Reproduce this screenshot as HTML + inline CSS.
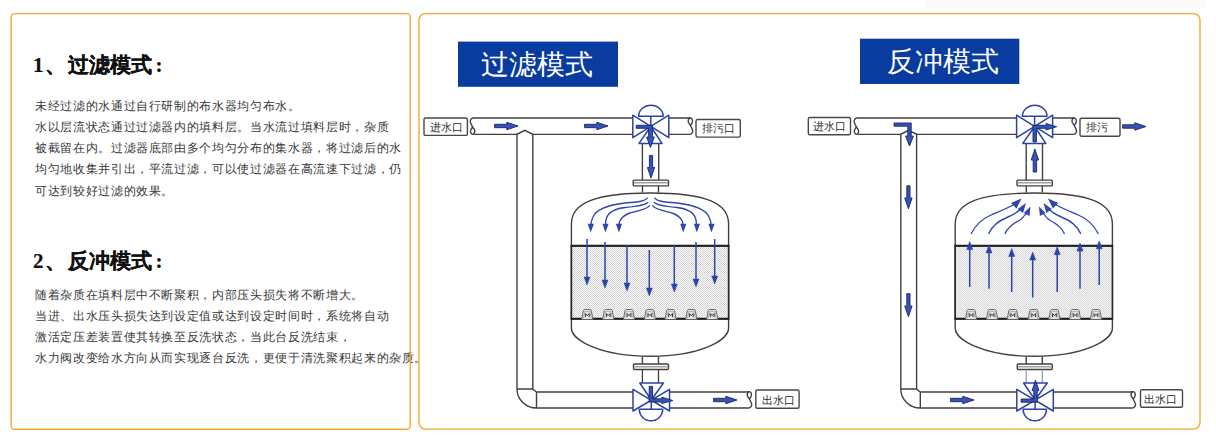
<!DOCTYPE html>
<html><head><meta charset="utf-8">
<style>
html,body{margin:0;padding:0;background:#fff;}
body{width:1216px;height:443px;position:relative;overflow:hidden;font-family:"Liberation Sans",sans-serif;}
.h{position:absolute;left:33px;font-family:"Liberation Serif",serif;font-weight:bold;font-size:21px;line-height:26px;color:#111;white-space:nowrap;-webkit-text-stroke:0.2px #111;}
.t{position:absolute;left:35px;font-size:12px;line-height:21.2px;color:#383838;letter-spacing:0.65px;white-space:nowrap;}
svg{position:absolute;left:0;top:0;}
</style></head>
<body>

<div class="h" style="top:52px"><span style="letter-spacing:1.5px">1、</span>过滤模式<span style="margin-left:4px">:</span></div>
<div class="t" style="top:95.6px;line-height:21.3px">未经过滤的水通过自行研制的布水器均匀布水。<br>水以层流状态通过过滤器内的填料层。当水流过填料层时，杂质<br>被截留在内。过滤器底部由多个均匀分布的集水器，将过滤后的水<br>均匀地收集并引出，平流过滤，可以使过滤器在高流速下过滤，仍<br>可达到较好过滤的效果。</div>

<div class="h" style="top:248px"><span style="letter-spacing:1.5px">2、</span>反冲模式<span style="margin-left:4px">:</span></div>
<div class="t" style="top:285px;line-height:21px">随着杂质在填料层中不断聚积，内部压头损失将不断增大。<br>当进、出水压头损失达到设定值或达到设定时间时，系统将自动<br>激活定压差装置使其转换至反洗状态，当此台反洗结束，<br>水力阀改变给水方向从而实现逐台反洗，更便于清洗聚积起来的杂质。</div>

<svg width="1216" height="443" viewBox="0 0 1216 443">
<defs>
  <pattern id="stip" width="2" height="2" patternUnits="userSpaceOnUse">
    <rect width="2" height="2" fill="#fbfbfb"/>
    <rect width="1" height="1" fill="#d2d2d2"/>
    <rect x="1" y="1" width="1" height="1" fill="#d2d2d2"/>
  </pattern>
  <path id="ra" d="M-23.4,-1.7 H-11.2 V-3.7 L0,0 L-11.2,3.7 V1.7 H-23.4 Z" fill="#3553b8" stroke="#1a2560" stroke-width="0.9" stroke-linejoin="round"/>
  <path id="sq" d="M0,0 C-2.5,0.5 -3.2,3 -2.4,4.8 C-1.8,6.5 -0.8,8 -0.5,9 C0.5,10.5 1.9,11.5 1.8,13 C1.7,15 0.7,16.4 -0.2,16.4 C-1.5,16.4 -2.6,15 -2.5,13 C-2.4,11.5 -1.2,10 -0.5,9 M-0.2,16.4 H1.5" fill="none"/>
  <g id="noz"><path d="M-5.6,9.8 L-3.9,0.9 Q-3.6,0 -2.6,0 H2.6 Q3.6,0 3.9,0.9 L5.6,9.8" fill="#e4e4e4" stroke="#6a6a6a" stroke-width="1"/><path d="M-3.9,9 L-2.7,2 H2.7 L3.9,9" fill="none" stroke="#a8a8a8" stroke-width="0.8"/><path d="M-1.9,7.6 V4 L0,6.2 L1.9,4 V7.6" fill="none" stroke="#3a3a3a" stroke-width="1"/></g>
  <g id="valveT" fill="none" stroke="#2c43a6" stroke-width="1.5" stroke-linejoin="round">
    <!-- center at 0,0 -->
    <path d="M-18,-11.3 L18,11.2 V-11.3 L-18,11.2 Z"/>
    <path d="M-11.8,16.9 H11.2 L0,0 Z"/>
    <path d="M-12.2,-10.2 H12.4 A12.3,11 0 0 0 -12.2,-10.2 Z"/>
    <path d="M0,-10.2 V0"/>
  </g>
  <g id="valveB" fill="none" stroke="#2c43a6" stroke-width="1.5" stroke-linejoin="round">
    <path d="M-18.3,-10.7 L18.2,11 V-10.7 L-18.3,11 Z"/>
    <path d="M-11.5,-17 H12.2 L0,0 Z"/>
    <path d="M-12,9.3 H11.4 A11.7,11.5 0 0 1 -12,9.3 Z"/>
    <path d="M0,0 V9.3"/>
  </g>
  <g id="base" fill="none" stroke="#404040" stroke-width="1.4">
    <!-- top pipe -->
    <path d="M473,118 H632.8 M668.9,118 H690.2 M474.5,134.4 H517 M532.8,134.4 H632.8 M668.9,134.4 H690"/>
    <use href="#sq" x="473" y="118"/>
    <use href="#sq" transform="translate(690,134.4) rotate(180)"/>
    <!-- vertical left pipe -->
    <path d="M517,389 V134.3 L524.8,130.3 L532.8,134.3 V389"/>
    <!-- elbow + bottom pipe -->
    <path d="M517,389 H532.5 L536.5,392 H633 M536.5,392 V408 M517,389 A19.5,19 0 0 0 536.5,408 H633 M669.5,392 H749.2 M669.5,408 H749"/>
    <use href="#sq" transform="translate(749,408) rotate(180)"/>
    <!-- top stem + flange + neck -->
    <path d="M642.4,143 V180 M658.7,143 V180"/>
    <rect x="633.2" y="180.1" width="35.3" height="5.8" rx="1" fill="#fff"/>
    <path d="M634,182.8 H667.7" stroke="#a0a0a0" stroke-width="1.4"/>
    <path d="M642.5,186 V192.6 M658.5,186 V192.6"/>
    <!-- tank -->
    <path d="M571.4,328 V224 C571.4,203 595,193 650.5,193 C706,193 728.6,203 728.6,224 V328 C728.6,340 701,356.3 650.5,356.3 C600,356.3 571.4,340 571.4,328 Z" fill="#fff"/>
    <!-- media -->
    <rect x="571.4" y="245.8" width="157.2" height="73" fill="url(#stip)" stroke="#2a2a2a" stroke-width="1.6"/>
    <path d="M570.8,245.8 H729.2 M570.8,318.8 H729.2" stroke="#1e1e1e" stroke-width="2"/>
    <!-- bottom neck + flange + stem -->
    <path d="M642.4,356.5 V364 M658.5,356.5 V364"/>
    <rect x="633.5" y="364" width="35" height="5.5" rx="1" fill="#fff"/>
    <path d="M634.3,366.7 H667.7" stroke="#a0a0a0" stroke-width="1.4"/>
  </g>
</defs>

<!-- faint top band -->
<path d="M925,0 H1206 V3 Q1206,7.5 1201.5,7.5 H925 Z" fill="#fafafa"/>
<!-- panels -->
<rect x="11.1" y="13.6" width="399.2" height="415.6" rx="3.5" fill="none" stroke="#f2a727" stroke-width="1.35"/>
<rect x="419" y="13.6" width="781" height="415.5" rx="6.5" fill="none" stroke="#f2a727" stroke-width="1.35"/>
<!-- mode title boxes -->
<rect x="458" y="41.6" width="160" height="45.2" fill="#0a3b9e"/>
<text x="536.5" y="74" font-size="27.5" fill="#fff" text-anchor="middle" font-family="Liberation Sans, sans-serif">过滤模式</text>
<rect x="860" y="38.7" width="159.3" height="45.3" fill="#0a3b9e"/>
<text x="943" y="71" font-size="27.5" fill="#fff" text-anchor="middle" font-family="Liberation Sans, sans-serif">反冲模式</text>

<!-- ============ LEFT DIAGRAM (filter) ============ -->
<use href="#base"/>
<g fill="none" stroke="#3c3c3c" stroke-width="1.25">
  <path d="M642.4,369.5 V383 M658.5,369.5 V383"/>
</g>
<use href="#valveT" x="650.8" y="126.5"/>
<use href="#valveB" x="651.3" y="400"/>
<!-- nozzles -->
<g>
  <use href="#noz" x="587.3" y="309.5"/><use href="#noz" x="608.3" y="309.5"/><use href="#noz" x="629" y="309.5"/><use href="#noz" x="649.9" y="309.5"/><use href="#noz" x="670.6" y="309.5"/><use href="#noz" x="691.3" y="309.5"/><use href="#noz" x="712.2" y="309.5"/>
</g>
<!-- labels -->
<g fill="#fff" stroke="#484848" stroke-width="1.4">
  <rect x="424" y="118" width="43.4" height="17.4" rx="1.5"/>
  <rect x="696" y="119.5" width="44.3" height="17.6" rx="1.5"/>
  <rect x="755.8" y="390" width="43.3" height="18.3" rx="1.5"/>
</g>
<g font-size="11" fill="#2a2a2a" font-family="Liberation Sans, sans-serif">
  <text x="429.5" y="130.5">进水口</text>
  <text x="702.2" y="131.9">排污口</text>
  <text x="762.2" y="404">出水口</text>
</g>
<!-- arrows -->
<use href="#ra" x="518" y="126"/>
<use href="#ra" x="608" y="126"/>
<use href="#ra" x="737" y="400"/>
<g fill="#3553b8" stroke="#1a2560" stroke-width="0.9" stroke-linejoin="round">
  <!-- bent arrow in top valve: right then down -->
  <path d="M636.2,125.3 H652.4 V137 H654.3 L650.5,147.4 L646.6,137 H648.6 V128.3 H636.2 Z"/>
  <!-- down arrow below valve -->
  <path d="M649.4,155.4 H652.6 V167.5 H654.6 L651,178 L647.4,167.5 H649.4 Z"/>
  <!-- bottom valve bent arrow: down then right -->
  <path d="M649.2,386.4 H652.6 V398.8 H661.8 V397.2 L672.8,400.5 L661.8,403.6 V402 H649.2 Z"/>
</g>
<!-- curved arrows in dome (filter) -->
<g fill="none" stroke="#2d47ad" stroke-width="1.35" stroke-linecap="round">
  <path d="M647.2,198.1 C645,201 640,202 625,203 C608,205 596,210 593,217 C591.5,220 591,222 590.8,225"/>
  <path d="M647.7,202.4 C645,205 640,206 625,207.5 C612,209 608,214 606.5,218 C605.8,220 605.6,222 605.5,225"/>
  <path d="M649.4,205.8 C647,209 640,210.5 630,213 C624,215 621,218.5 619.8,221 C619.2,222.5 619,224 619,225"/>
  <path d="M654.8,198.1 C657,201 662,202 677,203 C694,205 706,210 709,217 C710.5,220 711,222 711.2,225"/>
  <path d="M654.3,202.4 C657,205 662,206 677,207.5 C690,209 694,214 695.5,218 C696.2,220 696.4,222 696.5,225"/>
  <path d="M652.6,205.8 C655,209 662,210.5 672,213 C678,215 681,218.5 682.2,221 C682.8,222.5 683,224 683,225"/>
</g>
<g fill="#2d47ad">
  <path d="M587.8,223.8 L594,223.8 L590.6,232.4 Z"/>
  <path d="M602.4,223.8 L608.6,223.8 L605.4,232.4 Z"/>
  <path d="M615.9,223.8 L622.1,223.8 L618.9,232.4 Z"/>
  <path d="M680.2,223.8 L686.4,223.8 L683.2,232.4 Z"/>
  <path d="M693.8,223.8 L700,223.8 L696.8,232.4 Z"/>
  <path d="M708.4,223.8 L714.6,223.8 L711.4,232.4 Z"/>
</g>
<!-- vertical arrows in media (down) -->
<g stroke="#2a44a8" stroke-width="1.5" fill="#2a44a8">
  <path d="M587,239 V278"/><path d="M584,277 H590 L587,285 Z" stroke-width="0.5"/>
  <path d="M605,242 V281"/><path d="M602,280 H608 L605,288 Z" stroke-width="0.5"/>
  <path d="M627,245 V284"/><path d="M624,283 H630 L627,291 Z" stroke-width="0.5"/>
  <path d="M649.3,250 V289"/><path d="M646.3,288 H652.3 L649.3,296 Z" stroke-width="0.5"/>
  <path d="M674.3,245 V285"/><path d="M671.3,284 H677.3 L674.3,292 Z" stroke-width="0.5"/>
  <path d="M696,242 V280"/><path d="M693,279 H699 L696,287 Z" stroke-width="0.5"/>
  <path d="M714.7,239 V277"/><path d="M711.7,276 H717.7 L714.7,284 Z" stroke-width="0.5"/>
</g>

<!-- ============ RIGHT DIAGRAM (backwash) ============ -->
<g transform="translate(383.8,0)">
  <use href="#base"/>
  <path d="M642.4,369.5 V383 M658.5,369.5 V383" stroke="#8a9ad0" stroke-width="1.25" fill="none"/>
  <use href="#valveT" x="650.8" y="126.5"/>
  <use href="#valveB" x="651.3" y="400"/>
  <g>
    <use href="#noz" x="587.3" y="309.5"/><use href="#noz" x="608.3" y="309.5"/><use href="#noz" x="629" y="309.5"/><use href="#noz" x="649.9" y="309.5"/><use href="#noz" x="670.6" y="309.5"/><use href="#noz" x="691.3" y="309.5"/><use href="#noz" x="712.2" y="309.5"/>
  </g>
</g>
<g fill="#fff" stroke="#484848" stroke-width="1.4">
  <rect x="808.3" y="117.5" width="42.2" height="17.2" rx="1.5"/>
  <rect x="1080" y="118.2" width="40" height="18" rx="1.5"/>
  <rect x="1140.5" y="389.7" width="42" height="17.6" rx="1.5"/>
</g>
<g font-size="11" fill="#2a2a2a" font-family="Liberation Sans, sans-serif">
  <text x="812.5" y="130">进水口</text>
  <text x="1085.5" y="131">排污</text>
  <text x="1144" y="402.5">出水口</text>
</g>
<use href="#ra" x="1146" y="126.5"/>
<use href="#ra" x="974" y="400"/>
<g fill="#3553b8" stroke="#1a2560" stroke-width="0.9" stroke-linejoin="round">
  <!-- bent arrow at top junction: right then down -->
  <path d="M894,123 H911.2 V136 H913.4 L909.5,146 L905.6,136 H907.8 V126.2 H894 Z"/>
  <!-- down arrows in left vertical pipe -->
  <path d="M906.8,185.8 H910 V198 H912.1 L908.4,208.7 L904.7,198 H906.8 Z"/>
  <path d="M906.8,293.7 H910 V306 H912.1 L908.4,316.6 L904.7,306 H906.8 Z"/>
  <!-- up arrow in vertical pipe under top valve -->
  <path d="M1033.2,172 H1036.6 V160 H1038.6 L1034.9,149 L1031.2,160 H1033.2 Z"/>
  <!-- bent arrow in top valve: up then right -->
  <path d="M1033,142 V125.3 H1046 V123.5 L1056.7,126.7 L1046,130 V128.3 H1036.4 V142 Z"/>
  <!-- bottom valve bent arrow: right then up -->
  <path d="M1021.1,399 H1033.8 V390.7 H1032 L1035.5,380.2 L1039,390.7 H1037.2 V402.2 H1021.1 Z"/>
</g>
<!-- curved arrows in dome (backwash, converging up) -->
<g fill="none" stroke="#2d47ad" stroke-width="1.35" stroke-linecap="round">
  <path d="M971.3,233.5 C975,226 980,220 990,215.5 C998,212 1006,209 1014,204.5"/>
  <path d="M988.8,233.5 C992,226 998,221 1008,217 C1014,214.5 1018,212 1021,208.5"/>
  <path d="M1005.1,233.5 C1008,227 1014,223 1020,220 C1023,218 1025,215 1027,212"/>
  <path d="M1098.1,233.5 C1094.4,226 1089.4,220 1079.4,215.5 C1071.4,212 1063.4,209 1055.4,204.5"/>
  <path d="M1080.6,233.5 C1077.4,226 1071.4,221 1061.4,217 C1055.4,214.5 1051.4,212 1048.4,208.5"/>
  <path d="M1064.3,233.5 C1061.4,227 1055.4,223 1049.4,220 C1046.4,218 1044.4,215 1042.4,212"/>
</g>
<g fill="#2d47ad">
  <path d="M1021.5,198.5 L1016.5,208.5 L1011,203 Z"/>
  <path d="M1026,203 L1023,213 L1017.6,209 Z"/>
  <path d="M1030.5,206.4 L1029.5,216 L1023.8,213 Z"/>
  <path d="M1047.9,198.5 L1052.9,208.5 L1058.4,203 Z"/>
  <path d="M1043.4,203 L1046.4,213 L1051.8,209 Z"/>
  <path d="M1038.9,206.4 L1039.9,216 L1045.6,213 Z"/>
</g>
<!-- vertical arrows in media (up) -->
<g stroke="#2a44a8" stroke-width="1.5" fill="#2a44a8">
  <path d="M969.7,287 V248"/><path d="M966.7,249.5 H972.7 L969.7,241.5 Z" stroke-width="0.5"/>
  <path d="M989,288.7 V251.5"/><path d="M986,253 H992 L989,245 Z" stroke-width="0.5"/>
  <path d="M1011.7,292 V255"/><path d="M1008.7,256.5 H1014.7 L1011.7,248.5 Z" stroke-width="0.5"/>
  <path d="M1032.7,297.5 V258.5"/><path d="M1029.7,260 H1035.7 L1032.7,252 Z" stroke-width="0.5"/>
  <path d="M1057.2,292 V253"/><path d="M1054.2,254.7 H1060.2 L1057.2,246.7 Z" stroke-width="0.5"/>
  <path d="M1080,288.7 V249.5"/><path d="M1077,251 H1083 L1080,243 Z" stroke-width="0.5"/>
  <path d="M1099.2,285 V247.3"/><path d="M1096.2,248.8 H1102.2 L1099.2,240.8 Z" stroke-width="0.5"/>
</g>
</svg>
</body></html>
